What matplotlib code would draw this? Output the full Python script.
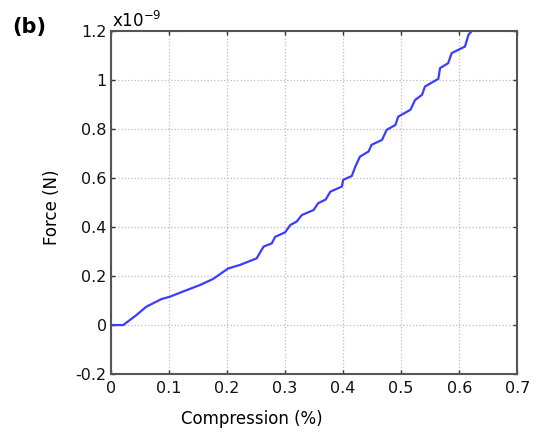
import numpy as np
import matplotlib.pyplot as plt

# curve (compression in %, force in 1e-9 N)
compression = [0.0, 0.021, 0.044, 0.061, 0.087, 0.102, 0.119, 0.153, 0.176, 0.202,
               0.222, 0.251, 0.263, 0.277, 0.283, 0.300, 0.309, 0.320, 0.329, 0.349,
               0.357, 0.370, 0.378, 0.398, 0.400, 0.415, 0.421, 0.429, 0.444, 0.449,
               0.467, 0.475, 0.490, 0.495, 0.516, 0.524, 0.536, 0.541, 0.564, 0.567,
               0.581, 0.587, 0.610, 0.616, 0.622]
force = [0.0, 0.0, 0.041, 0.075, 0.106, 0.116, 0.132, 0.163, 0.188, 0.231,
         0.245, 0.272, 0.320, 0.333, 0.360, 0.378, 0.408, 0.422, 0.449, 0.469,
         0.497, 0.512, 0.544, 0.565, 0.592, 0.608, 0.646, 0.687, 0.708, 0.735,
         0.755, 0.796, 0.816, 0.850, 0.878, 0.918, 0.939, 0.973, 1.004, 1.048,
         1.068, 1.109, 1.136, 1.184, 1.2]

x_ticks = [0, 0.1, 0.2, 0.3, 0.4, 0.5, 0.6, 0.7]
x_labels = ['0', '0.1', '0.2', '0.3', '0.4', '0.5', '0.6', '0.7']
y_ticks = [-0.2, 0, 0.2, 0.4, 0.6, 0.8, 1.0, 1.2]
y_labels = ['-0.2', '0', '0.2', '0.4', '0.6', '0.8', '1', '1.2']

fig = plt.figure(figsize=(5.36, 4.34), dpi=100)
ax = fig.add_axes([0.207, 0.138, 0.758, 0.791])

ax.plot(compression, force, color='#3c3cff', lw=1.6)

ax.set_xlim(0, 0.7)
ax.set_ylim(-0.2, 1.2)
ax.set_xticks(x_ticks)
ax.set_xticklabels(x_labels)
ax.set_yticks(y_ticks)
ax.set_yticklabels(y_labels)
ax.tick_params(direction='in', length=3, width=1, top=True, right=True,
               labelsize=11.5, colors='#333333', labelcolor='#111111')
ax.tick_params(axis='x', pad=5)
ax.tick_params(axis='y', pad=3)

ax.grid(True, color='#bdbdbd', linestyle=':', lw=0.9)
for s in ax.spines.values():
    s.set_color('#555555')
    s.set_linewidth(1.5)

ax.text(0.003, 1.0, r'x10$^{-9}$', transform=ax.transAxes, fontsize=12,
        ha='left', va='bottom')

fig.text(52 / 536, 1 - 207 / 434, 'Force (N)', rotation=90, ha='center',
         va='center', fontsize=12)
fig.text(252 / 536, 1 - 419 / 434, 'Compression (%)', ha='center', va='center',
         fontsize=12)
fig.text(12 / 536, 1 - 27 / 434, '(b)', fontweight='bold', fontsize=15,
         ha='left', va='center')

fig.savefig('out.png', dpi=100)
